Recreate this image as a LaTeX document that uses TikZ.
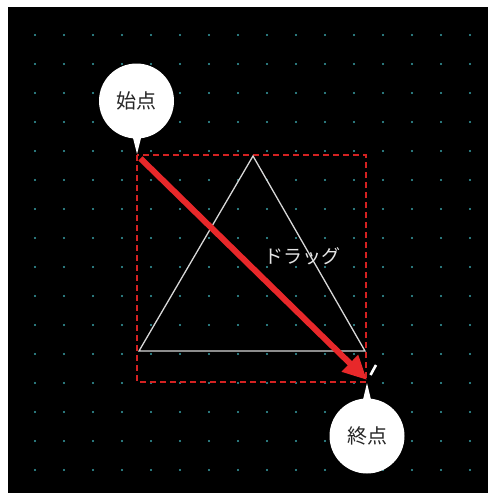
\documentclass[tikz,border=0pt]{standalone}
\usepackage{fontspec}
\newfontfamily\jpfont{Noto Sans CJK JP}
\usetikzlibrary{arrows.meta}
\definecolor{dotc}{HTML}{3AA2A8}
\definecolor{redline}{HTML}{E8282A}
\definecolor{dashred}{HTML}{D42222}
\definecolor{trigray}{HTML}{D8D8D8}
\tikzset{
  bubble/.style={circle, fill=white, minimum size=75pt, inner sep=0pt, font=\jpfont\fontsize{20}{22}\selectfont, text=black!85},
  bubtip/.style={fill=white},
  dragarrow/.style={draw=redline, line width=6pt, -{Triangle[length=24pt,width=22pt]}, shorten <=2pt},
}
\begin{document}
\begin{tikzpicture}[x=1pt,y=-1pt]
\useasboundingbox (0,0) rectangle (488,493);
\fill[white] (0,0) rectangle (488,493);
\fill[black] (8,7) rectangle (488,493);
\foreach \i in {0,...,15}{
  \foreach \j in {0,...,15}{
    \fill[dotc] ({35+29*\i},{35+29*\j}) circle (1.1pt);
  }
}
% dashed selection box
\draw[dashred, line width=1.4pt, dash pattern=on 6pt off 4pt] (137,155) rectangle (366,382);
% triangle
\draw[trigray, line width=1.3pt, line join=miter] (253,156) -- (139,351) -- (365,351) -- cycle;
% drag label
\node[font=\jpfont\fontsize{19}{21}\selectfont, text=white!90!black] (drag) at (302,256) {ドラッグ};
% start / end points
\coordinate (s) at (139,157);
\coordinate (e) at (367,380);
\draw[dragarrow] (s) -- (e);
% cursor mark
\coordinate (c1) at (376,365);
\coordinate (c2) at (370.5,375);
\draw[white, line width=2.6pt] (c1) -- (c2);
% bubbles
\fill[bubtip] (131,130) -- (137,154) -- (143,130) -- cycle;
\node[bubble] (b1) at (136.5,101) {始点};
\fill[bubtip] (361,408) -- (367,383) -- (373,408) -- cycle;
\node[bubble] (b2) at (367,436) {終点};
\end{tikzpicture}
\end{document}
